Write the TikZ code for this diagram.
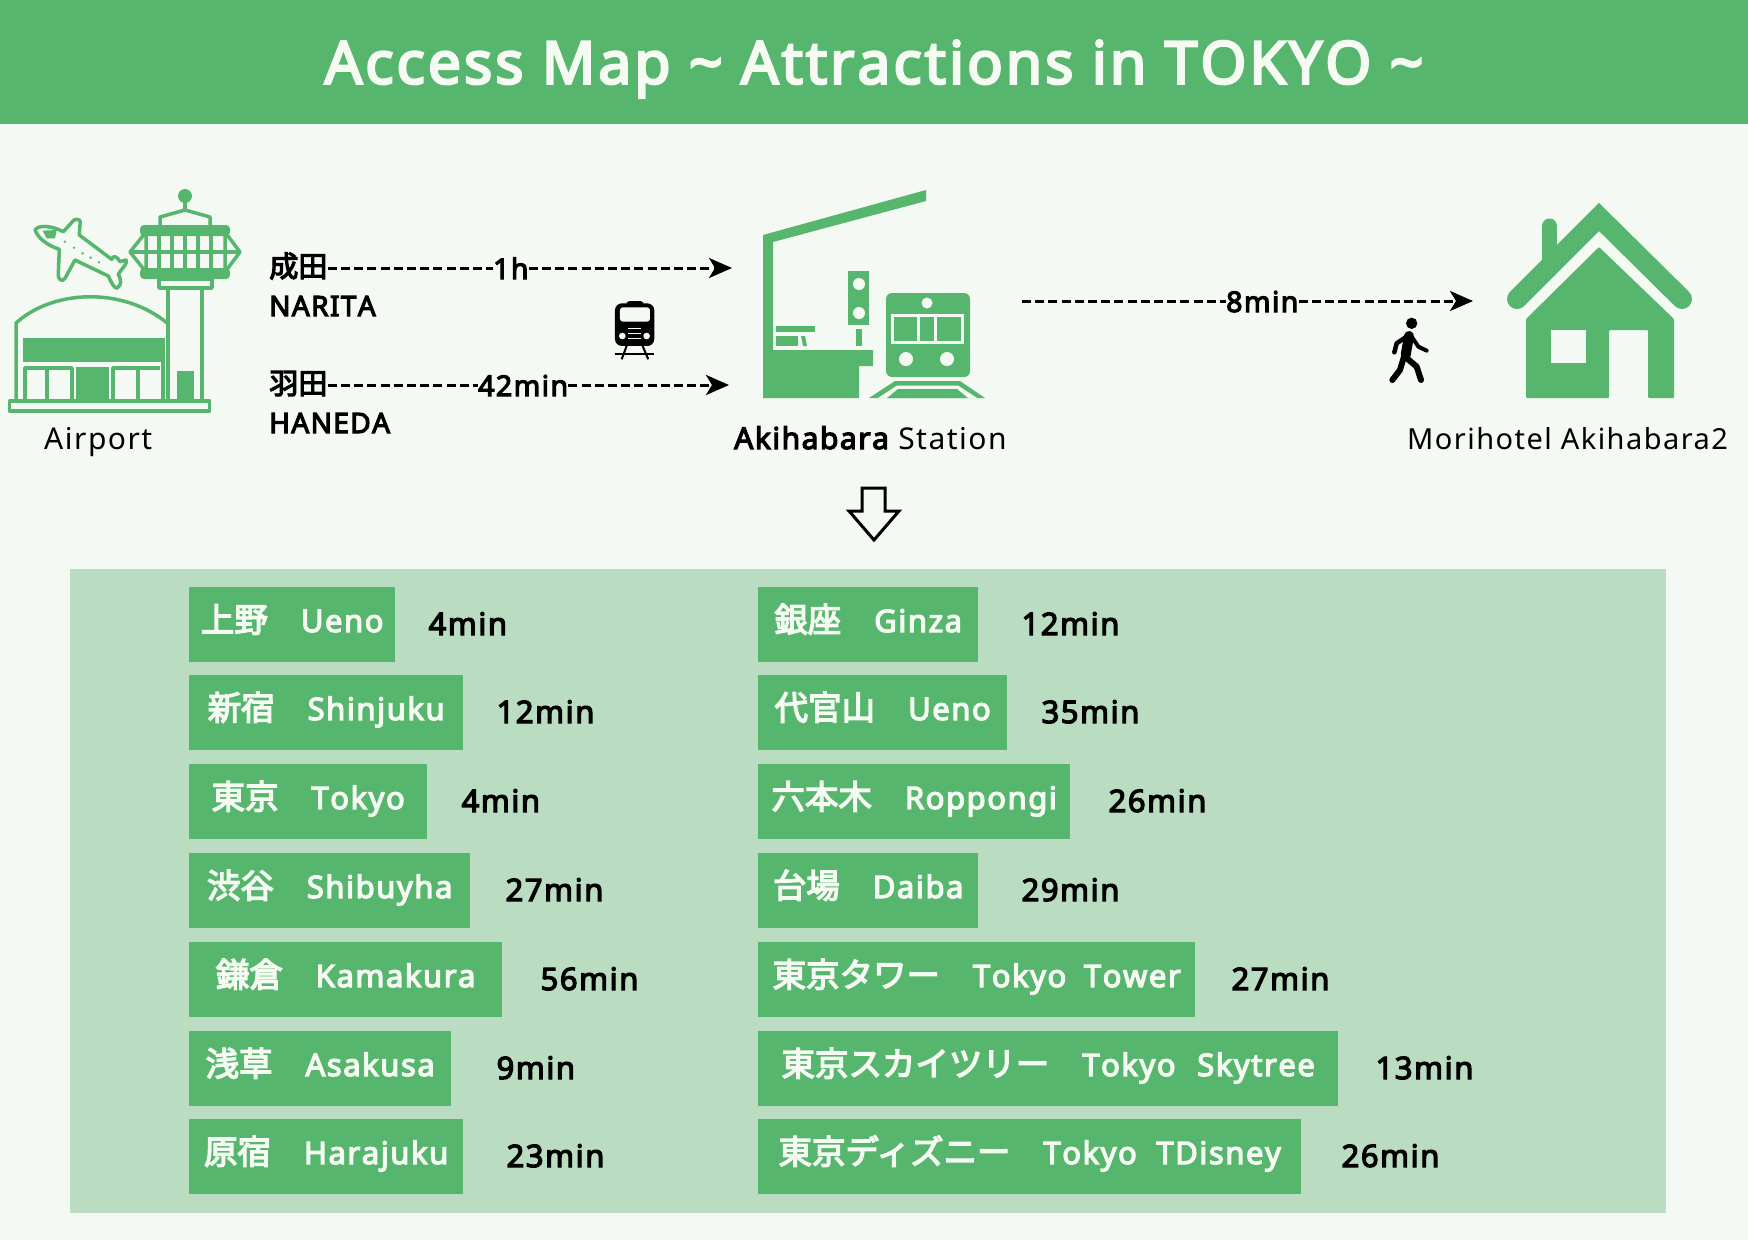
\documentclass[tikz,border=0pt]{standalone}
\usepackage{fontspec}
\usepackage{xcolor}
\usetikzlibrary{arrows.meta, positioning}
\setmainfont[LetterSpace=5]{Noto Sans}
\newfontfamily\medfont[LetterSpace=5,FakeBold=4,Kerning=Off]{Noto Sans}
\newfontfamily\jpfont[FakeBold=4,Scale=1.08]{Noto Sans CJK JP}
\definecolor{pagebg}{HTML}{F5F9F3}
\definecolor{accentgreen}{HTML}{57B66D}
\definecolor{panelgreen}{HTML}{BADCC0}
\definecolor{chiptext}{HTML}{F5FBF2}
\newcommand{\jp}[1]{{\jpfont #1}}
\tikzset{
    chip/.style={fill=accentgreen, text=chiptext, anchor=west, inner sep=0pt, minimum height=75pt,
        font=\fontsize{31}{31}\medfont, text height=22pt, text depth=6pt, align=center},
    minutes/.style={inner sep=0pt, text height=22pt, text depth=0pt, font=\fontsize{31}{31}\medfont},
    legtime/.style={minutes, anchor=west, font=\fontsize{28.5}{28.5}\medfont},
    place/.style={inner sep=0pt, anchor=base west, font=\fontsize{30}{30}\selectfont},
    route/.style={inner sep=0pt, anchor=base west, font=\fontsize{28}{28}\medfont},
    routejp/.style={inner sep=0pt, anchor=west, text height=22pt, text depth=4pt, font=\fontsize{27}{27}\medfont},
    dashline/.style={line width=3pt, dash pattern=on 9pt off 4.2pt},
    bigtip/.style={-{Stealth[length=23pt, width=20pt, inset=6pt]}},
    outline/.style={draw=accentgreen, line width=3.5pt, line join=round}
}
\begin{document}
\begin{tikzpicture}[x=1pt, y=-1pt, >=Stealth]
    \useasboundingbox (0,0) rectangle (1748,1240);
    \fill[pagebg] (0,0) rectangle (1748,1240);

    % Title band
    \fill[accentgreen] (0,0) rectangle (1748,124);
    \node[text=chiptext, inner sep=0pt, font=\fontsize{59}{59}\medfont] (title) at (874,69)
        {Access Map \textasciitilde{} Attractions in TOKYO \textasciitilde};

    % Airport terminal
    \draw[outline] (9.5,401) rectangle (209.5,411);
    \draw[outline] (16,400) -- (16,323) .. controls (55,288) and (125,288) .. (167,323);
    \draw[outline] (168,400) -- (168,288);
    \draw[outline] (202,400) -- (202,288);
    \fill[accentgreen] (23,338) rectangle (163,362);
    \draw[outline] (163,338) -- (163,400);
    \draw[outline] (25,400) -- (25,368) -- (72,368) -- (72,400);
    \draw[outline] (47,368) -- (47,400);
    \fill[accentgreen] (76,367) rectangle (109,400);
    \draw[outline] (113,400) -- (113,368) -- (160,368);
    \draw[outline] (138,368) -- (138,400);
    \fill[accentgreen] (177,371) rectangle (194,400);

    % Control tower
    \draw[outline] (159,288) rectangle (212,279);
    \draw[outline] (130,252) -- (146,232) -- (146,272) -- cycle;
    \draw[outline] (240,252) -- (225,232) -- (225,272) -- cycle;
    \draw[outline] (130,252) -- (240,252);
    \foreach \winx in {159,172,185,198,211}
        \draw[outline] (\winx,232) -- (\winx,272);
    \fill[accentgreen, rounded corners=4pt] (140,225) rectangle (230,236);
    \fill[accentgreen, rounded corners=4pt] (140,268) rectangle (230,279);
    \draw[outline] (160,225) -- (160,217) -- (185,210) -- (210,217) -- (210,225);
    \draw[outline] (185,210) -- (185,196);
    \fill[accentgreen] (185,196) circle (7);

    % Plane
    \begin{scope}[shift={(0,170)}, x=0.3333pt, y=-0.3333pt]
        \draw[outline] (105,180) .. controls (115,165) and (150,165) .. (190,185)
            -- (222,150) .. controls (235,145) and (245,150) .. (240,165) -- (238,195)
            -- (335,268) .. controls (340,255) and (350,258) .. (360,275) -- (378,270)
            .. controls (382,280) and (375,285) .. (355,312)
            .. controls (365,335) and (365,345) .. (350,355)
            .. controls (340,350) and (335,340) .. (325,318) -- (225,270) -- (195,325)
            .. controls (185,340) and (172,325) .. (175,310) -- (178,238)
            .. controls (140,225) and (115,205) .. (105,180) -- cycle;
        \fill[accentgreen] (128,182) -- (170,180) -- (165,205) -- (140,205) -- cycle;
        \foreach \dotx/\doty in {195/215, 222/233, 248/250, 272/263, 297/277}
            \fill[accentgreen] (\dotx,\doty) circle (4);
    \end{scope}
    \node[place] (airport) at (44,449) {Airport};

    % Routes to the station
    \node[routejp] (narita) at (269,268) {\jp{成田}};
    \node[route] (naritaname) at (269,316) {NARITA};
    \node[legtime] (naritatime) at (493,268) {1h};
    \coordinate (naritatip) at (732,268);
    \draw[dashline] (narita.east) -- (naritatime.west);
    \draw[dashline, bigtip] (naritatime.east) -- (naritatip);

    \node[routejp] (haneda) at (269,385) {\jp{羽田}};
    \node[route] (hanedaname) at (269,433) {HANEDA};
    \node[legtime] (hanedatime) at (478,385) {42min};
    \coordinate (hanedatip) at (729,385);
    \draw[dashline] (haneda.east) -- (hanedatime.west);
    \draw[dashline, bigtip] (hanedatime.east) -- (hanedatip);

    % Train icon
    \begin{scope}[shift={(250,240)}, x=0.3333pt, y=-0.3333pt]
        \fill[rounded corners=3pt] (1130,183) rectangle (1180,195);
        \fill[rounded corners=7pt] (1095,190) rectangle (1213,318);
        \fill[pagebg, rounded corners=3pt] (1110,202) rectangle (1200,245);
        \fill[pagebg] (1117,288) circle (10);
        \fill[pagebg] (1190,288) circle (10);
        \foreach \grilly in {265,280,295}
            \draw[pagebg, line width=1pt] (1135,\grilly) -- (1172,\grilly);
        \draw[line width=2pt] (1130,318) -- (1115,358);
        \draw[line width=2pt] (1178,318) -- (1195,358);
        \draw[line width=1.5pt] (1095,342) -- (1213,342);
    \end{scope}

    % Station
    \fill[accentgreen] (763,235) -- (926,190) -- (926,201) -- (773,242) -- (773,350) -- (873,350)
        -- (873,366) -- (859,366) -- (859,398) -- (763,398) -- cycle;
    \fill[accentgreen] (776,326) rectangle (815,332);
    \fill[accentgreen] (776,336) rectangle (798,346);
    \fill[accentgreen] (801,336) -- (805,336) -- (807,346) -- (803,346) -- cycle;
    \fill[accentgreen] (848,271) rectangle (869,325);
    \fill[pagebg] (859,284) circle (6);
    \fill[pagebg] (859,313) circle (6);
    \fill[accentgreen] (856,329) rectangle (862,346);
    \fill[accentgreen, rounded corners=6pt] (886,293) rectangle (970,377);
    \fill[pagebg] (927,303) circle (5.5);
    \draw[pagebg, line width=3pt] (892,315) rectangle (962,342);
    \draw[pagebg, line width=3pt] (918,315) -- (918,342);
    \draw[pagebg, line width=3pt] (935,315) -- (935,342);
    \fill[pagebg] (906,359) circle (7);
    \fill[pagebg] (947,359) circle (7);
    \fill[accentgreen] (869,398) -- (895,381) -- (960,381) -- (985,398) -- cycle;
    \fill[pagebg] (878,398) -- (897,385.5) -- (958,385.5) -- (977,398) -- cycle;
    \fill[accentgreen] (887,398) -- (898,389) -- (957,389) -- (968,398) -- cycle;
    \node[place] (station) at (734,449) {{\medfont Akihabara} Station};

    % Walk to the hotel
    \node[legtime] (walktime) at (1226,301) {8min};
    \coordinate (walkstart) at (1022,301);
    \coordinate (walktip) at (1473,301);
    \draw[dashline] (walkstart) -- (walktime.west);
    \draw[dashline, bigtip] (walktime.east) -- (walktip);

    % Walker
    \begin{scope}[shift={(1360,180)}, x=0.3333pt, y=-0.3333pt, line cap=round, line join=round]
        \fill (155,430) circle (17);
        \draw[line width=4.5pt] (140,470) -- (110,490) -- (103,517);
        \draw[line width=4pt] (155,470) -- (175,500) -- (200,512);
        \draw[line width=10pt] (147,468) -- (137,525);
        \draw[line width=6pt] (132,530) -- (120,570) -- (97,600);
        \draw[line width=6pt] (135,530) -- (170,560) -- (183,600);
    \end{scope}

    % Hotel
    \draw[accentgreen, line width=15pt, line cap=round] (1549.5,226) -- (1549.5,270);
    \draw[accentgreen, line width=20pt, line cap=round, miter limit=10] (1517,299) -- (1599,217) -- (1682,299);
    \fill[accentgreen, rounded corners=1pt] (1599,247) -- (1674,319) -- (1674,398) -- (1648,398) -- (1648,330)
        -- (1609,330) -- (1609,398) -- (1526,398) -- (1526,319) -- cycle;
    \fill[pagebg] (1551,330) rectangle (1586,363);
    \node[place, font=\fontsize{29}{29}\selectfont] (hotel) at (1407,449) {Morihotel Akihabara2};

    % Down arrow
    \draw[line width=3pt, line join=miter, fill=pagebg] (862,488) -- (885,488) -- (885,511) -- (899,511)
        -- (874,540) -- (849,511) -- (862,511) -- cycle;

    % Destinations panel
    \fill[panelgreen] (70,569) rectangle (1666,1213);

    % Left column
    \node[chip, minimum width=206pt] (ueno) at (189,624) {\jp{上野}\hspace{33pt}Ueno};
    \node[chip, minimum width=274pt] (shinjuku) at (189,712) {\jp{新宿}\hspace{33pt}Shinjuku};
    \node[chip, minimum width=238pt] (tokyo) at (189,801) {\jp{東京}\hspace{33pt}Tokyo};
    \node[chip, minimum width=281pt] (shibuya) at (189,890) {\jp{渋谷}\hspace{33pt}Shibuyha};
    \node[chip, minimum width=313pt] (kamakura) at (189,979) {\jp{鎌倉}\hspace{33pt}Kamakura};
    \node[chip, minimum width=262pt] (asakusa) at (189,1068) {\jp{浅草}\hspace{33pt}Asakusa};
    \node[chip, minimum width=274pt] (harajuku) at (189,1156) {\jp{原宿}\hspace{33pt}Harajuku};

    \node[minutes, right=33pt of ueno] (uenotime) {4min};
    \node[minutes, right=33pt of shinjuku] (shinjukutime) {12min};
    \node[minutes, right=34pt of tokyo] (tokyotime) {4min};
    \node[minutes, right=35pt of shibuya] (shibuyatime) {27min};
    \node[minutes, right=38pt of kamakura] (kamakuratime) {56min};
    \node[minutes, right=45pt of asakusa] (asakusatime) {9min};
    \node[minutes, right=43pt of harajuku] (harajukutime) {23min};

    % Right column
    \node[chip, minimum width=220pt] (ginza) at (758,624) {\jp{銀座}\hspace{33pt}Ginza};
    \node[chip, minimum width=249pt] (daikanyama) at (758,712) {\jp{代官山}\hspace{33pt}Ueno};
    \node[chip, minimum width=312pt] (roppongi) at (758,801) {\jp{六本木}\hspace{33pt}Roppongi};
    \node[chip, minimum width=220pt] (daiba) at (758,890) {\jp{台場}\hspace{33pt}Daiba};
    \node[chip, minimum width=437pt] (tower) at (758,979) {\jp{東京タワー}\hspace{33pt}Tokyo\hspace{8pt} Tower};
    \node[chip, minimum width=580pt] (skytree) at (758,1068) {\jp{東京スカイツリー}\hspace{33pt}Tokyo\hspace{12pt} Skytree};
    \node[chip, minimum width=543pt] (disney) at (758,1156) {\jp{東京ディズニー}\hspace{33pt}Tokyo\hspace{10pt} TDisney};

    \node[minutes, right=43pt of ginza] (ginzatime) {12min};
    \node[minutes, right=34pt of daikanyama] (daikanyamatime) {35min};
    \node[minutes, right=38pt of roppongi] (roppongitime) {26min};
    \node[minutes, right=43pt of daiba] (daibatime) {29min};
    \node[minutes, right=36pt of tower] (towertime) {27min};
    \node[minutes, right=37pt of skytree] (skytreetime) {13min};
    \node[minutes, right=40pt of disney] (disneytime) {26min};
\end{tikzpicture}
\end{document}
